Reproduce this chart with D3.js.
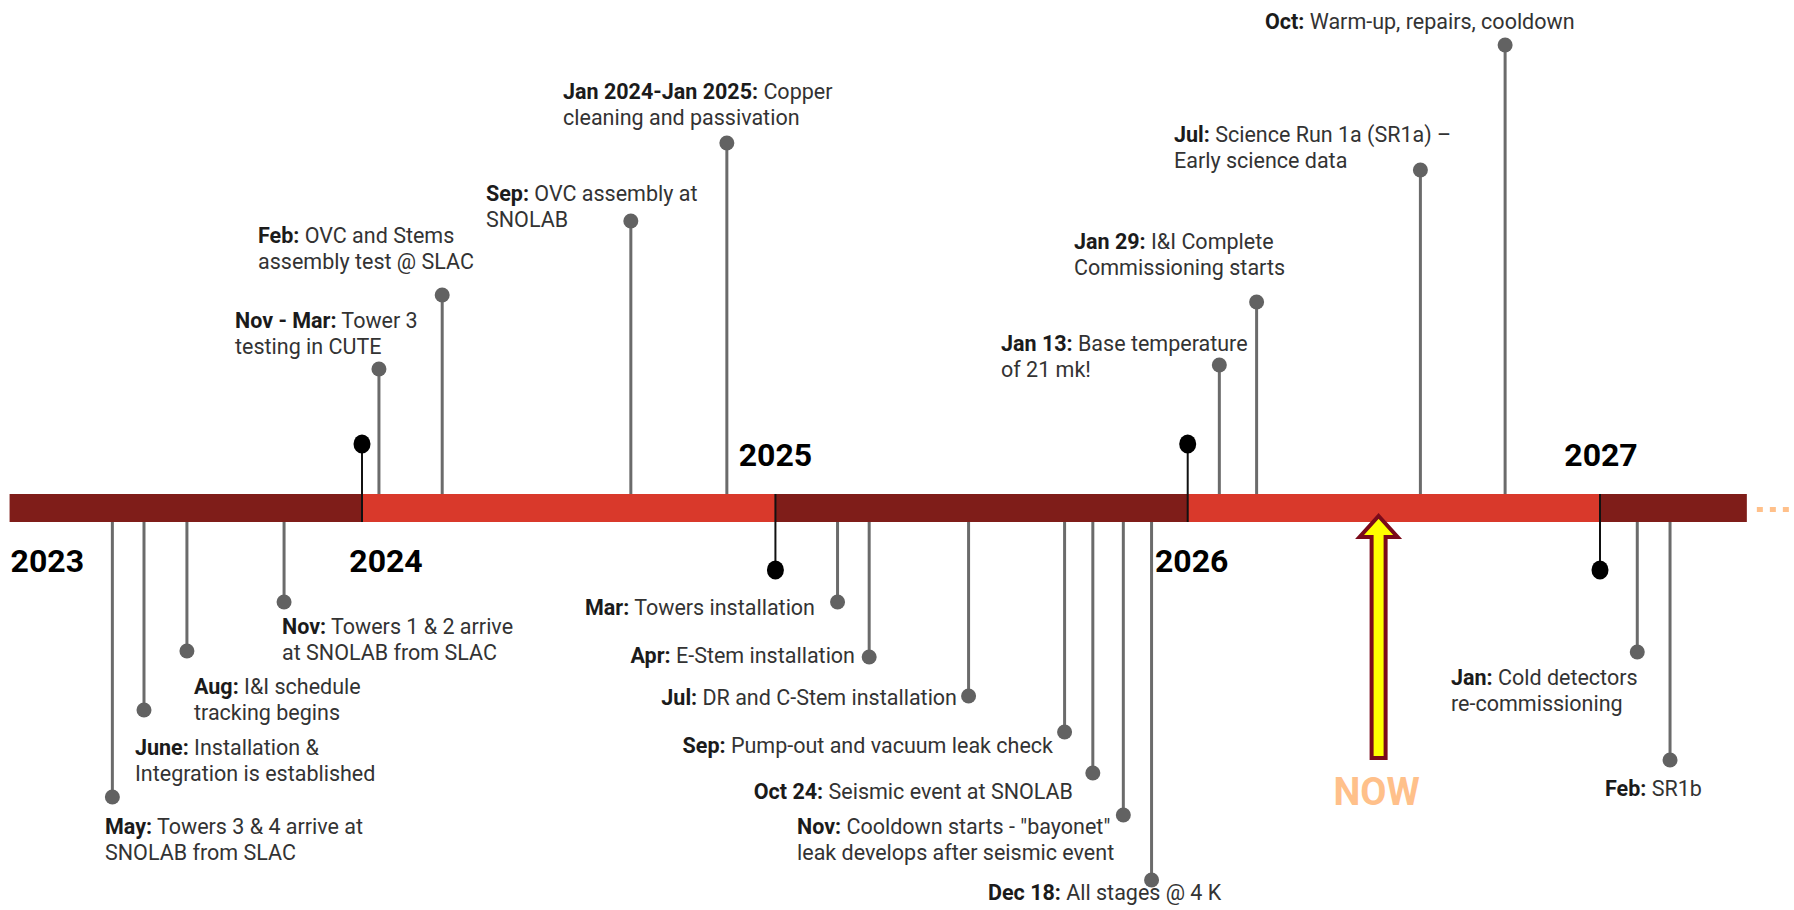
<!DOCTYPE html>
<html>
<head>
<meta charset="utf-8">
<script src="https://cdn.jsdelivr.net/npm/d3@7"></script>
<style>
  html, body { margin: 0; padding: 0; background: #fff; }
  svg { display: block; }
  text { font-family: Roboto, "Noto Sans", sans-serif; }
</style>
</head>
<body>
<svg id="chart" width="1794" height="910"></svg>
<script>
// ---------- DATA ----------
const years = [2023, 2024, 2025, 2026, 2027];
const yearLabels = ["2023", "2024", "2025", "2026", "2027"];
const timelineStart = "2023-02-23";
const timelineEnd = "2027-05-11";

const eventDates = [
  "2023-05-25", "2023-06-22", "2023-07-30", "2023-10-24",
  "2024-01-16", "2024-03-12", "2024-08-26", "2024-11-19",
  "2025-02-25", "2025-03-25", "2025-06-21", "2025-09-14",
  "2025-10-09", "2025-11-05", "2025-11-30",
  "2026-01-29", "2026-03-03", "2026-07-26", "2026-10-09",
  "2027-02-03", "2027-03-04"
];
const eventTitles = [
  "May", "June", "Aug", "Nov",
  "Nov - Mar", "Feb", "Sep", "Jan 2024-Jan 2025",
  "Mar", "Apr", "Jul", "Sep",
  "Oct 24", "Nov", "Dec 18",
  "Jan 13", "Jan 29", "Jul", "Oct",
  "Jan", "Feb"
];
const eventTexts = [
  ["Towers 3 & 4 arrive at", "SNOLAB from SLAC"],
  ["Installation &", "Integration is established"],
  ["I&I schedule", "tracking begins"],
  ["Towers 1 & 2 arrive", "at SNOLAB from SLAC"],
  ["Tower 3", "testing in CUTE"],
  ["OVC and Stems", "assembly test @ SLAC"],
  ["OVC assembly at", "SNOLAB"],
  ["Copper", "cleaning and passivation"],
  ["Towers installation"],
  ["E-Stem installation"],
  ["DR and C-Stem installation"],
  ["Pump-out and vacuum leak check"],
  ["Seismic event at SNOLAB"],
  ["Cooldown starts - \"bayonet\"", "leak develops after seismic event"],
  ["All stages @ 4 K"],
  ["Base temperature", "of 21 mk!"],
  ["I&I Complete", "Commissioning starts"],
  ["Science Run 1a (SR1a) \u2013", "Early science data"],
  ["Warm-up, repairs, cooldown"],
  ["Cold detectors", "re-commissioning"],
  ["SR1b"]
];
const nowDate = "2026-06-19";
const nowLabel = "NOW";

// ---------- LAYOUT (positions, not data) ----------
// side, dot y, label x, label baseline y, anchor
const layout = [
  ["below", 797, 105, 834, "start"],
  ["below", 710, 135, 755, "start"],
  ["below", 651, 194, 694, "start"],
  ["below", 602, 282, 634, "start"],
  ["above", 369, 235, 328, "start"],
  ["above", 295, 258, 243, "start"],
  ["above", 221, 486, 201, "start"],
  ["above", 143, 563, 99, "start"],
  ["below", 602, 815, 615, "end"],
  ["below", 657, 855, 663, "end"],
  ["below", 696, 957, 705, "end"],
  ["below", 732, 1053, 753, "end"],
  ["below", 773, 1073, 799, "end"],
  ["below", 815, 797, 834, "start"],
  ["below", 880, 988, 900, "start"],
  ["above", 365, 1001, 351, "start"],
  ["above", 302, 1074, 249, "start"],
  ["above", 170, 1174, 142, "start"],
  ["above", 45, 1265, 29, "start"],
  ["below", 652, 1451, 685, "start"],
  ["below", 760, 1605, 796, "start"]
];

const barTop = 494, barBottom = 522;
const lineGap = 26;
const segColors = ["#7f1d19", "#d9392b", "#7f1d19", "#d9392b", "#7f1d19"];

const parse = d3.timeParse("%Y-%m-%d");
const x = d3.scaleTime()
  .domain([parse("2024-01-01"), parse("2027-01-01")])
  .range([362, 1600]);

const svg = d3.select("#chart");

// ---------- BAR SEGMENTS ----------
const segs = years.map((y, i) => {
  const s = i === 0 ? parse(timelineStart) : parse(y + "-01-01");
  const e = i === years.length - 1 ? parse(timelineEnd) : parse((y + 1) + "-01-01");
  return { s, e, c: segColors[i] };
});

// ---------- EVENT STEMS ----------
const events = eventDates.map((d, i) => ({
  date: parse(d), title: eventTitles[i], lines: eventTexts[i],
  side: layout[i][0], dotY: layout[i][1], lx: layout[i][2], ly: layout[i][3], anchor: layout[i][4]
}));

const gStem = svg.append("g");
gStem.selectAll("line").data(events).join("line")
  .attr("x1", d => x(d.date)).attr("x2", d => x(d.date))
  .attr("y1", d => d.side === "above" ? barTop : barBottom)
  .attr("y2", d => d.dotY)
  .attr("stroke", "#6b6b6b").attr("stroke-width", 3);
gStem.selectAll("circle").data(events).join("circle")
  .attr("cx", d => x(d.date)).attr("cy", d => d.dotY)
  .attr("r", 7.5).attr("fill", "#626262");

// bar
svg.append("g").selectAll("rect").data(segs).join("rect")
  .attr("x", d => x(d.s)).attr("y", barTop)
  .attr("width", d => x(d.e) - x(d.s)).attr("height", barBottom - barTop)
  .attr("fill", d => d.c);

// year boundary markers
const bounds = years.slice(1).map((y, i) => ({ date: parse(y + "-01-01"), up: i % 2 === 0 }));
const gB = svg.append("g");
gB.selectAll("line").data(bounds).join("line")
  .attr("x1", d => x(d.date)).attr("x2", d => x(d.date))
  .attr("y1", d => d.up ? 444 : barTop)
  .attr("y2", d => d.up ? barBottom : 570)
  .attr("stroke", "#111").attr("stroke-width", 2);
gB.selectAll("ellipse").data(bounds).join("ellipse")
  .attr("cx", d => x(d.date)).attr("cy", d => d.up ? 444 : 570)
  .attr("rx", 8.5).attr("ry", 9.5).attr("fill", "#000");

// year labels
const yearPos = [
  { dx: 0, y: 572, anchor: "start", start: true },
  { dx: 24, y: 572, anchor: "middle" },
  { dx: 0, y: 466, anchor: "middle" },
  { dx: 4, y: 572, anchor: "middle" },
  { dx: 1, y: 466, anchor: "middle" }
];
svg.append("g").selectAll("text").data(yearLabels).join("text")
  .attr("x", (d, i) => (yearPos[i].start ? x(parse(timelineStart)) + 1 : x(parse(years[i] + "-01-01"))) + yearPos[i].dx)
  .attr("y", (d, i) => yearPos[i].y)
  .attr("text-anchor", (d, i) => yearPos[i].anchor)
  .attr("font-size", 32).attr("font-weight", 700).attr("fill", "#000")
  .text(d => d);

// ellipsis after bar
svg.append("g").selectAll("rect").data([0, 1, 2]).join("rect")
  .attr("x", d => x(parse(timelineEnd)) + 10 + d * 13).attr("y", 507)
  .attr("width", 6).attr("height", 5).attr("fill", "#ffc08a");

// ---------- LABELS ----------
const gL = svg.append("g").attr("font-size", 21.5);
events.forEach(ev => {
  const t = gL.append("text")
    .attr("x", ev.lx).attr("y", ev.ly)
    .attr("text-anchor", ev.anchor);
  t.append("tspan").attr("font-weight", 700).attr("fill", "#1b1b1b").text(ev.title + ":");
  t.append("tspan").attr("fill", "#333").text(" " + ev.lines[0]);
  ev.lines.slice(1).forEach((ln, k) => {
    gL.append("text")
      .attr("x", ev.lx).attr("y", ev.ly + lineGap * (k + 1))
      .attr("text-anchor", ev.anchor).attr("fill", "#333").text(ln);
  });
});

// ---------- NOW ARROW ----------
const nx = x(parse(nowDate));
const arrowPts = [
  [nx, 516], [nx + 19, 537], [nx + 7, 537], [nx + 7, 758],
  [nx - 7, 758], [nx - 7, 537], [nx - 19, 537]
];
svg.append("polygon")
  .attr("points", arrowPts.map(p => p.join(",")).join(" "))
  .attr("fill", "#ffff00").attr("stroke", "#7a0a1a")
  .attr("stroke-width", 4).attr("stroke-linejoin", "miter");
svg.append("text")
  .attr("x", nx - 2).attr("y", 805).attr("text-anchor", "middle")
  .attr("font-size", 38).attr("font-weight", 700).attr("fill", "#ffc08a")
  .text(nowLabel);
</script>
</body>
</html>
